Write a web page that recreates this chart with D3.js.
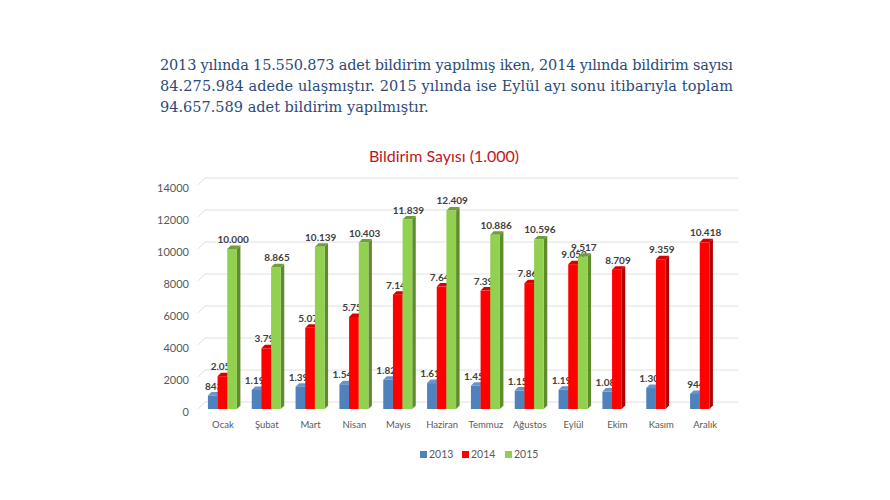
<!DOCTYPE html>
<html>
<head>
<meta charset="utf-8">
<script src="https://cdn.jsdelivr.net/npm/d3@7"></script>
<style>
  body { margin: 0; background: #fff; }
</style>
</head>
<body>
<script>
// chart data
var months = ["Ocak", "Şubat", "Mart", "Nisan", "Mayıs", "Haziran", "Temmuz", "Ağustos", "Eylül", "Ekim", "Kasım", "Aralık"];
var years = ["2013", "2014", "2015"];
var values2013 = [843, 1192, 1393, 1545, 1824, 1618, 1451, 1150, 1198, 1086, 1309, 944];
var values2014 = [2051, 3794, 5073, 5754, 7147, 7649, 7399, 7866, 9052, 8709, 9359, 10418];
var values2015 = [10000, 8865, 10139, 10403, 11839, 12409, 10886, 10596, 9517, null, null, null];
var yTicks = [0, 2000, 4000, 6000, 8000, 10000, 12000, 14000];
var introLines = [
  "2013 yılında 15.550.873 adet bildirim yapılmış iken, 2014 yılında bildirim sayısı",
  "84.275.984 adede ulaşmıştır. 2015 yılında ise Eylül ayı sonu itibarıyla toplam",
  "94.657.589 adet bildirim yapılmıştır."
];
var chartTitle = "Bildirim Sayısı (1.000)";

var width = 890;
var height = 500;

var svg = d3.select("body")
  .append("svg")
  .attr("width", width)
  .attr("height", height);

// paragraph above the chart
var intro = svg.append("g");
intro.selectAll("text")
  .data(introLines)
  .enter()
  .append("text")
  .attr("x", 160)
  .attr("y", function(d, i) { return 70 + i * 21; })
  .attr("font-family", "'DejaVu Serif', serif")
  .attr("font-size", 14.5)
  .attr("fill", "#2b4a78")
  .attr("textLength", function(d, i) { return i < 2 ? 573 : null; })
  .attr("lengthAdjust", "spacing")
  .text(function(d) { return d; });

svg.append("text")
  .attr("x", 444)
  .attr("y", 162)
  .attr("text-anchor", "middle")
  .attr("font-family", "Lato, 'Open Sans', sans-serif")
  .attr("font-size", 16)
  .attr("fill", "#c0161c")
  .text(chartTitle);

// scales
var depth = 7;
var x0 = d3.scaleBand().domain(months).range([201, 727]);
var x1 = d3.scaleBand().domain(years).range([0, 29]);
var y = d3.scaleLinear().domain([0, 14000]).range([409, 185]);

// back wall gridlines with the slanted side edge
var grid = svg.append("g");
grid.selectAll("path")
  .data(yTicks)
  .enter()
  .append("path")
  .attr("fill", "none")
  .attr("stroke", "#e0e0e0")
  .attr("stroke-width", 1)
  .attr("d", function(d) {
    var yy = y(d);
    return "M" + (x0.range()[0] - 3) + "," + yy +
      "L" + (x0.range()[0] + depth - 3) + "," + (yy - depth) +
      "L738," + (yy - depth);
  });

// y axis labels
svg.append("g").selectAll("text")
  .data(yTicks)
  .enter()
  .append("text")
  .attr("x", 189)
  .attr("y", function(d) { return y(d) + 7; })
  .attr("text-anchor", "end")
  .attr("font-family", "Lato, 'Open Sans', sans-serif")
  .attr("font-size", 11)
  .attr("fill", "#595959")
  .text(function(d) { return d; });

// month labels
svg.append("g").selectAll("text")
  .data(months)
  .enter()
  .append("text")
  .attr("x", function(d) { return x0(d) + x0.bandwidth() / 2; })
  .attr("y", 428)
  .attr("text-anchor", "middle")
  .attr("font-family", "Lato, 'Open Sans', sans-serif")
  .attr("font-size", 9.5)
  .attr("fill", "#595959")
  .text(function(d) { return d; });

var series = [
  { year: "2013", values: values2013, front: "#4f81bd", side: "#385d8a", top: "#6a94c8" },
  { year: "2014", values: values2014, front: "#ff0000", side: "#b00000", top: "#d80000" },
  { year: "2015", values: values2015, front: "#92d050", side: "#5e8c2c", top: "#6f9e3a" }
];

var fmt = function(v) { return d3.format(",")(v).replace(/,/g, "."); };
var groupOffset = (x0.bandwidth() - 30) / 2;
var dx = 3.5, dy = 3.5;

series.forEach(function(s) {
  var rows = months.map(function(m, i) { return { month: m, v: s.values[i] }; })
    .filter(function(d) { return d.v != null; });
  var g = svg.append("g");
  var bar = g.selectAll("g")
    .data(rows)
    .enter()
    .append("g");

  function bx(d) { return x0(d.month) + groupOffset + x1(s.year); }
  var bw = x1.bandwidth();

  // side face
  bar.append("path")
    .attr("fill", s.side)
    .attr("d", function(d) {
      var l = bx(d) + bw, t = y(d.v), b = y(0);
      return "M" + l + "," + t + "L" + (l + dx) + "," + (t - dy) +
        "L" + (l + dx) + "," + (b - dy) + "L" + l + "," + b + "Z";
    });
  // top face
  bar.append("path")
    .attr("fill", s.top)
    .attr("d", function(d) {
      var l = bx(d), t = y(d.v);
      return "M" + l + "," + t + "L" + (l + dx) + "," + (t - dy) +
        "L" + (l + bw + dx) + "," + (t - dy) + "L" + (l + bw) + "," + t + "Z";
    });
  // front face
  bar.append("rect")
    .attr("x", bx)
    .attr("y", function(d) { return y(d.v); })
    .attr("width", bw)
    .attr("height", function(d) { return y(0) - y(d.v); })
    .attr("fill", s.front);

  bar.append("text")
    .attr("x", function(d) { return bx(d) + bw / 2 + 1; })
    .attr("y", function(d) { return y(d.v) - 6; })
    .attr("text-anchor", "middle")
    .attr("font-family", "Lato, 'Open Sans', sans-serif")
    .attr("font-weight", "bold")
    .attr("font-size", 10)
    .attr("fill", "#404040")
    .text(function(d) { return fmt(d.v); });
});

// legend
var legend = svg.append("g");
var lx = d3.scaleOrdinal().domain(years).range([420, 462, 505]);
legend.selectAll("rect")
  .data(series)
  .enter()
  .append("rect")
  .attr("x", function(d) { return lx(d.year); })
  .attr("y", 451)
  .attr("width", 7)
  .attr("height", 7)
  .attr("fill", function(d) { return d.front; });
legend.selectAll("text")
  .data(series)
  .enter()
  .append("text")
  .attr("x", function(d) { return lx(d.year) + 9; })
  .attr("y", 458)
  .attr("font-family", "Lato, 'Open Sans', sans-serif")
  .attr("font-size", 10.5)
  .attr("fill", "#595959")
  .text(function(d) { return d.year; });
</script>
</body>
</html>
